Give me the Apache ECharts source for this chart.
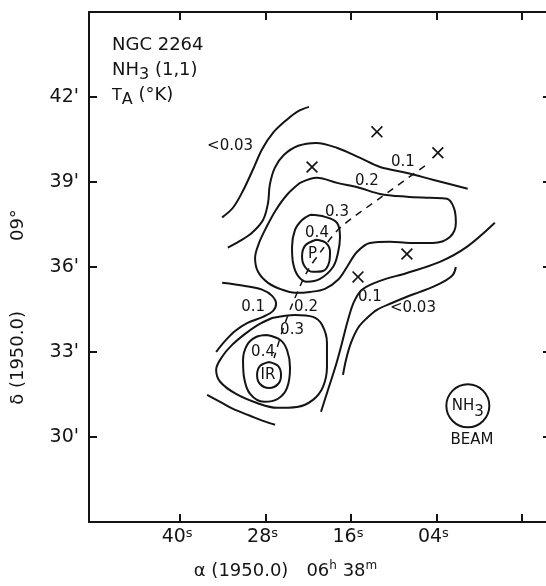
<!DOCTYPE html>
<html>
<head>
<meta charset="utf-8">
<script src="https://cdn.jsdelivr.net/npm/echarts@6/dist/echarts.min.js"></script>
<style>
  html, body { margin: 0; background: #fff; }
  #chart { width: 546px; height: 586px; }
</style>
</head>
<body>
<div id="chart"></div>
<script>
// x: right ascension, seconds past 06h38m (negative = 06h37m); y: declination, arcmin past +09deg
const raTicks = [40, 28, 16, 4, -8];
const raLabels = [40, 28, 16, 4];
const decMin = 27, decMax = 45, decStep = 3;

// contours of T_A (K)
const lt003a = [[21.9, 41.65], [23.4, 41.5], [25.0, 41.2], [26.9, 40.75], [28.5, 40.15], [29.75, 39.45], [31.15, 38.7], [32.55, 38.1], [34.1, 37.75]];
const lt003b = [[17.12, 32.19], [16.7, 32.72], [16.0, 33.32], [15.01, 33.85], [13.75, 34.2], [12.35, 34.49], [10.24, 34.73], [8.14, 34.95], [6.31, 35.12], [4.49, 35.3], [2.8, 35.51], [1.68, 35.72], [1.26, 36.0]];
const lv01a = [[-0.4, 38.76], [4.5, 39.08], [8.1, 39.32], [11.9, 39.53], [14.7, 39.85], [18.0, 40.21], [20.9, 40.38], [23.4, 40.28], [25.4, 39.96], [26.7, 39.5], [27.4, 38.9], [27.65, 38.26], [28.35, 37.66], [29.9, 37.21], [31.6, 36.92], [33.3, 36.68]];
const lv01b = [[34.1, 35.44], [30.87, 35.33], [28.49, 35.2], [27.08, 34.98], [26.52, 34.7], [26.94, 34.45], [28.35, 34.24], [30.59, 34.02], [32.28, 33.74], [33.68, 33.39], [34.94, 33.0]];
const lv01c = [[36.21, 31.49], [34.38, 31.24], [32.56, 30.99], [30.17, 30.75], [28.35, 30.57], [26.66, 30.43]];
const lv01d = [[20.21, 30.89], [19.23, 31.66], [18.1, 32.55], [17.26, 33.32], [16.42, 34.13], [15.58, 34.77], [14.45, 35.2], [11.93, 35.51], [8.14, 35.79], [3.51, 36.18], [-0.28, 36.71], [-4.21, 37.56]];
const lv02P = [[23.15, 38.97], [20.77, 39.15], [17.96, 38.97], [14.73, 38.79], [11.93, 38.58], [8.14, 38.48], [4.91, 38.44], [2.52, 38.41], [1.54, 38.09], [1.26, 37.56], [2.1, 37.06], [4.49, 36.85], [7.72, 36.85], [10.52, 36.89], [13.33, 36.85], [15.16, 36.53], [16.56, 36.0], [17.82, 35.55], [19.65, 35.23], [21.75, 35.12], [23.86, 35.09], [25.68, 35.2], [27.65, 35.44], [29.05, 35.83], [29.47, 36.32], [28.91, 36.85], [27.93, 37.38], [26.52, 38.02], [24.98, 38.55], [23.15, 38.97]];
const lv03P = [[21.75, 37.84], [19.65, 37.77], [17.96, 37.56], [17.54, 37.06], [17.82, 36.5], [18.52, 36.0], [20.35, 35.58], [22.17, 35.48], [23.44, 35.69], [24.14, 36.15], [24.28, 36.71], [23.86, 37.31], [22.87, 37.66], [21.75, 37.84]];
const lv04P = [[20.91, 36.96], [19.51, 36.85], [18.94, 36.53], [19.08, 36.15], [19.93, 35.86], [21.33, 35.83], [22.45, 36.0], [22.87, 36.36], [22.45, 36.75], [20.91, 36.96]];
const lv02IR = [[27.08, 34.2], [29.05, 33.96], [30.87, 33.64], [32.7, 33.25], [34.1, 32.83], [34.94, 32.37], [34.38, 31.95], [32.14, 31.52], [29.19, 31.2], [26.38, 31.03], [23.58, 31.06], [21.33, 31.31], [19.93, 31.77], [19.37, 32.47], [19.37, 33.32], [20.07, 33.96], [21.33, 34.24], [23.86, 34.31], [27.08, 34.2]];
const lv03IR = [[27.79, 33.6], [25.96, 33.43], [24.98, 33.07], [24.56, 32.44], [24.98, 31.73], [26.24, 31.35], [28.21, 31.24], [30.17, 31.52], [31.01, 32.09], [31.16, 32.72], [30.59, 33.25], [29.33, 33.53], [27.79, 33.6]];
const lv04IR = [[27.51, 32.65], [26.24, 32.51], [25.82, 32.19], [26.24, 31.87], [27.51, 31.73], [28.77, 31.87], [29.19, 32.19], [28.77, 32.51], [27.51, 32.65]];

// dashed cut through P and IR
const ridge = [[5.61, 39.57], [11.65, 38.48], [17.54, 37.38], [20.07, 36.6], [22.17, 35.83], [24.28, 34.66], [25.68, 33.71], [26.8, 32.79]];

// observed positions marked with x
const crosses = [[21.47, 39.53], [12.35, 40.77], [3.79, 40.03], [8.14, 36.46], [15.01, 35.65]];

// contour labels
const levelText = ['<0.03', '0.1', '0.2', '0.3', '0.4', '0.1', '0.2', '0.3', '0.4', '0.1', '<0.03'];
const levelAt = [[32.98, 40.28], [8.7, 39.71], [13.75, 39.04], [17.96, 37.95], [20.77, 37.21], [29.75, 34.59], [22.31, 34.59], [24.28, 33.78], [28.35, 33.0], [13.33, 34.95], [7.29, 34.56]];

const sourceText = ['P', 'IR'];
const sourceAt = [[21.4, 36.46], [27.65, 32.19]];

const beamAt = [-0.42, 31.10];
const beamTextAt = [-0.99, 29.89];

const ink = '#141414';
const font = 'DejaVu Sans';

const myChart = echarts.init(document.getElementById('chart'));

const contourSeries = [lt003a, lt003b, lv01a, lv01b, lv01c, lv01d, lv02P, lv03P, lv04P, lv02IR, lv03IR, lv04IR].map(pts => ({
    type: 'line',
    data: pts,
    smooth: 0.35,
    symbol: 'none',
    silent: true,
    lineStyle: { color: ink, width: 2 }
}));

const textItem = (at, txt) => ({ value: at, label: { formatter: txt } });

const frameLine = { onZero: false, lineStyle: { color: ink, width: 2 } };
const frameTick = { inside: true, length: 8, lineStyle: { color: ink, width: 2 } };
const raMin = -11.4, raMax = 52.8;

const option = {
    animation: false,
    backgroundColor: '#fff',
    textStyle: { fontFamily: font, color: ink },
    title: {
        left: 112,
        top: 33,
        padding: 0,
        text: '{a|NGC 2264}\n{a|NH}{b|3}{a| (1,1)}\n{t|T}{b|A}{a| (°K)}',
        textStyle: {
            fontWeight: 'normal',
            rich: {
                a: { fontFamily: font, fontSize: 18, fontWeight: 'normal', lineHeight: 25, color: ink },
                t: { fontFamily: font, fontSize: 16, fontWeight: 'normal', lineHeight: 25, color: ink },
                b: { fontFamily: font, fontSize: 16, fontWeight: 'normal', lineHeight: 14, verticalAlign: 'bottom', color: ink }
            }
        }
    },
    grid: { left: 89, top: 12, right: 0, bottom: 64 },
    xAxis: [
        {
            type: 'value',
            inverse: true,
            min: raMin,
            max: raMax,
            splitLine: { show: false },
            axisLine: frameLine,
            axisTick: Object.assign({ customValues: raTicks }, frameTick),
            axisLabel: {
                customValues: raLabels,
                margin: 5,
                padding: [0, 6, 0, 0],
                formatter: v => '{n|' + (v < 10 ? '0' + v : v) + '}{s|s}',
                rich: {
                    n: { fontFamily: font, fontSize: 19, lineHeight: 21, color: ink },
                    s: { fontFamily: font, fontSize: 13, lineHeight: 12, verticalAlign: 'top', color: ink }
                }
            },
            name: '{a|α (1950.0)}{g|}{a|06}{s|h}{a| 38}{s|m}',
            nameLocation: 'middle',
            nameGap: 38,
            nameTextStyle: {
                padding: [0, 64, 0, 0],
                rich: {
                    a: { fontFamily: font, fontSize: 18, lineHeight: 22, color: ink },
                    g: { width: 18 },
                    s: { fontFamily: font, fontSize: 12, lineHeight: 10, verticalAlign: 'top', color: ink }
                }
            }
        },
        {
            type: 'value',
            position: 'top',
            inverse: true,
            min: raMin,
            max: raMax,
            splitLine: { show: false },
            axisLine: frameLine,
            axisTick: Object.assign({ customValues: raTicks }, frameTick),
            axisLabel: { show: false }
        }
    ],
    yAxis: [
        {
            type: 'value',
            min: decMin,
            max: decMax,
            interval: decStep,
            splitLine: { show: false },
            axisLine: frameLine,
            axisTick: frameTick,
            axisLabel: {
                margin: 10,
                fontFamily: font,
                fontSize: 19,
                color: ink,
                formatter: v => (v > decMin && v < decMax) ? v + "'" : ''
            },
            name: '{a|δ (1950.0)}{g|}{a|09°}',
            nameLocation: 'middle',
            nameGap: 60,
            nameTextStyle: {
                padding: [0, 80, 0, 0],
                rich: {
                    a: { fontFamily: font, fontSize: 18, lineHeight: 22, color: ink },
                    g: { width: 70 }
                }
            }
        },
        {
            // right frame sits just past the picture edge: only tick stubs show
            type: 'value',
            position: 'right',
            min: decMin,
            max: decMax,
            interval: decStep,
            splitLine: { show: false },
            axisLine: { show: false, onZero: false },
            axisTick: { inside: true, length: 3, lineStyle: { color: ink, width: 2 } },
            axisLabel: { show: false }
        }
    ],
    series: [
        ...contourSeries,
        {
            type: 'line',
            data: ridge,
            smooth: 0.3,
            symbol: 'none',
            silent: true,
            lineStyle: { color: ink, width: 1.5, type: [7, 6] }
        },
        {
            type: 'scatter',
            data: crosses,
            silent: true,
            symbol: 'path://M0,1L1,0L5,4L9,0L10,1L6,5L10,9L9,10L5,6L1,10L0,9L4,5Z',
            symbolSize: 12,
            itemStyle: { color: ink, opacity: 1 }
        },
        {
            type: 'scatter',
            silent: true,
            symbolSize: 1,
            itemStyle: { color: 'rgba(0,0,0,0)', opacity: 1 },
            label: { show: true, position: 'inside', fontFamily: font, fontSize: 15, color: ink },
            data: levelText.map((t, i) => textItem(levelAt[i], t))
                .concat(sourceText.map((t, i) => textItem(sourceAt[i], t)))
                .concat([textItem(beamTextAt, 'BEAM')])
        },
        {
            type: 'scatter',
            silent: true,
            data: [beamAt],
            symbol: 'circle',
            symbolSize: 43,
            itemStyle: { color: 'rgba(0,0,0,0)', borderColor: ink, borderWidth: 2, opacity: 1 },
            label: {
                show: true,
                position: 'inside',
                formatter: '{a|NH}{b|3}',
                rich: {
                    a: { fontFamily: font, fontSize: 15, lineHeight: 16, color: ink },
                    b: { fontFamily: font, fontSize: 15, lineHeight: 16, padding: [12, 0, 0, 0], color: ink }
                }
            }
        }
    ]
};

myChart.setOption(option);
</script>
</body>
</html>
